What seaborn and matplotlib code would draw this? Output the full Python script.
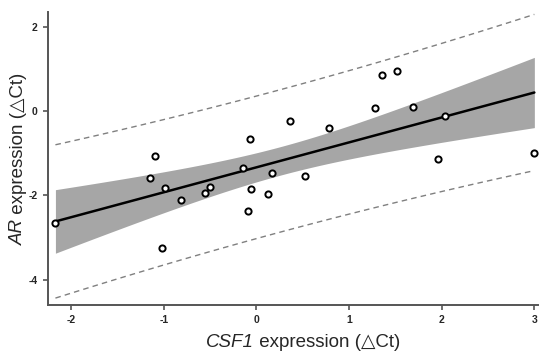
import numpy as np
import pandas as pd
import matplotlib
matplotlib.use("Agg")
import matplotlib.pyplot as plt
import seaborn as sns

# Data
csf1 = [-2.17, -1.09, -1.15, -0.99, -1.02, -0.81, -0.55, -0.50, -0.14, -0.07,
        -0.06, -0.09, 0.13, 0.17, 0.36, 0.52, 0.78, 1.28, 1.35, 1.52,
        1.69, 2.03, 1.96, 3.00]
ar = [-2.65, -1.07, -1.60, -1.82, -3.26, -2.10, -1.94, -1.80, -1.36, -0.66,
      -1.86, -2.38, -1.96, -1.48, -0.24, -1.55, -0.41, 0.08, 0.85, 0.95,
      0.09, -0.13, -1.15, -1.00]
x_ticks = [-2, -1, 0, 1, 2, 3]
y_ticks = [-4, -2, 0, 2]
x_label_it = "CSF1"
x_label_rest = " expression (△Ct)"
y_label_it = "AR"
y_label_rest = " expression (△Ct)"

df = pd.DataFrame({"CSF1": csf1, "AR": ar})

sns.set_style("ticks")
FAM = ["Liberation Sans", "DejaVu Sans"]
plt.rcParams["font.family"] = FAM
plt.rcParams["axes.unicode_minus"] = False

fig = plt.figure(figsize=(5.5, 3.58), dpi=100)
ax = fig.add_axes([0.0873, 0.148, 0.891, 0.818])

sns.regplot(data=df, x="CSF1", y="AR", ax=ax, ci=None, truncate=True,
            scatter_kws=dict(s=20, facecolors="white", edgecolors="black",
                             linewidths=1.4, alpha=1, zorder=4),
            line_kws=dict(color="black", lw=1.8, zorder=3))

# confidence band and prediction interval from the OLS fit
x = np.asarray(csf1); y = np.asarray(ar)
n = len(x)
b1, b0 = np.polyfit(x, y, 1)
resid = y - (b0 + b1 * x)
s = np.sqrt(np.sum(resid ** 2) / (n - 2))
try:
    from scipy import stats
    tval = stats.t.ppf(0.975, n - 2)
except Exception:
    tval = 2.074
xx = np.linspace(x.min(), x.max(), 100)
yy = b0 + b1 * xx
lev = 1 / n + (xx - x.mean()) ** 2 / np.sum((x - x.mean()) ** 2)
se_ci = s * np.sqrt(lev)
se_pi = s * np.sqrt(1 + lev)
ax.fill_between(xx, yy - tval * se_ci, yy + tval * se_ci, color="#a6a6a6",
                lw=0, zorder=1)
ax.plot(xx, yy + tval * se_pi, ls=(0, (4, 3)), color="#808080", lw=1.0, zorder=2)
ax.plot(xx, yy - tval * se_pi, ls=(0, (4, 3)), color="#808080", lw=1.0, zorder=2)

ax.set_xlim(-2.25, 3.04)
ax.set_ylim(-4.6, 2.34)
ax.set_xticks(x_ticks)
ax.set_yticks(y_ticks)
ax.set_xticklabels([str(t) for t in x_ticks], fontweight="bold", fontsize=7.5)
ax.set_yticklabels([str(t) for t in y_ticks], fontweight="bold", fontsize=7.5)
ax.tick_params(axis="both", direction="out", length=3.5, width=1.2,
               color="#555555", pad=4)
for side in ["top", "right"]:
    ax.spines[side].set_visible(False)
for side in ["left", "bottom"]:
    ax.spines[side].set_color("#555555")
    ax.spines[side].set_linewidth(1.4)
ax.set_xlabel("")
ax.set_ylabel("")

W, H = 550, 358
LFS = 13.5
# x label: italic gene name followed by regular text
t1 = fig.text(206 / W, (H - 346.7) / H, x_label_it, fontsize=LFS,
              style="italic", family=FAM, ha="left", va="baseline")
ax.annotate(x_label_rest, xy=(1, 0), xycoords=t1, fontsize=LFS, family=FAM,
            ha="left", va="bottom", annotation_clip=False)
# y label: rotated
t2 = fig.text(23 / W, (H - 245) / H, y_label_it, fontsize=LFS, style="italic",
              family=FAM, rotation=90, rotation_mode="anchor",
              ha="left", va="baseline")
ax.annotate(y_label_rest, xy=(0, 1), xycoords=t2, fontsize=LFS, family=FAM,
            rotation=90, ha="left", va="bottom", annotation_clip=False)

fig.savefig("out.png", dpi=100)
